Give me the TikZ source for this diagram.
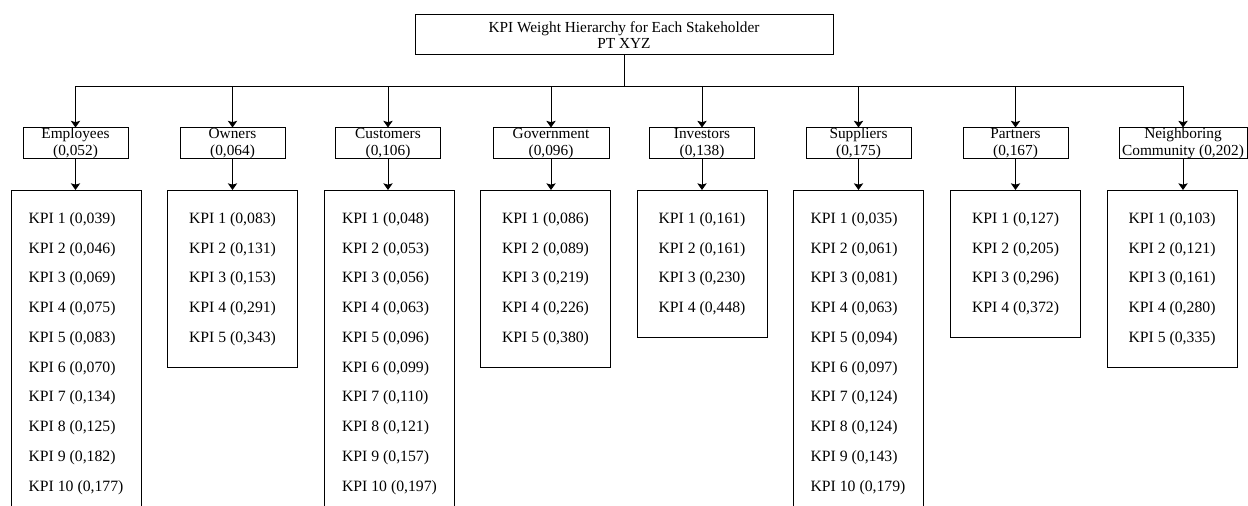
\documentclass[tikz,border=0pt]{standalone}
\usepackage{fontspec}
\setmainfont{Liberation Serif}
\usetikzlibrary{arrows.meta}

\begin{document}
\begin{tikzpicture}[x=0.75pt, y=-0.75pt,
		box/.style={draw, line width=0.75pt, inner xsep=0pt},
		titlebox/.style={box, minimum width=313.5pt, minimum height=30pt, inner ysep=0pt, align=center, font=\fontsize{11.5}{12}\selectfont},
		headbox/.style={box, minimum height=23.25pt, inner ysep=0pt, align=center, font=\fontsize{11.5}{12.75}\selectfont},
		kpibox/.style={box, anchor=north, minimum width=97.5pt, inner ysep=16.5pt, align=left, font=\fontsize{11.8}{22.3}\selectfont},
		arr/.style={line width=0.75pt, -{Stealth[length=5pt, width=7pt, inset=1pt]}}]
		%%%%% START %%%%%
		
		\useasboundingbox (0, 0) rectangle (1248, 506);
		\clip (0, 0) rectangle (1248, 506);
		
		\node[titlebox] (title) at (624, 35) {KPI Weight Hierarchy for Each Stakeholder\\PT XYZ};
		\coordinate (bus) at (624, 87);
		
		\node[headbox, minimum width=78.75pt] (emp) at (75.5, 143.5) {Employees\\(0,052)};
		\node[headbox, minimum width=78.75pt] (own) at (232.5, 143.5) {Owners\\(0,064)};
		\node[headbox, minimum width=78.75pt] (cus) at (388, 143.5) {Customers\\(0,106)};
		\node[headbox, minimum width=87pt] (gov) at (551, 143.5) {Government\\(0,096)};
		\node[headbox, minimum width=78.75pt] (inv) at (702, 143.5) {Investors\\(0,138)};
		\node[headbox, minimum width=78.75pt] (sup) at (858.5, 143.5) {Suppliers\\(0,175)};
		\node[headbox, minimum width=78.75pt] (par) at (1015.5, 143.5) {Partners\\(0,167)};
		\node[headbox, minimum width=96pt] (nbr) at (1183, 143.5) {Neighboring\\Community (0,202)};
		
		\node[kpibox] (emp-kpi) at (76, 190) {KPI 1 (0,039)\\KPI 2 (0,046)\\KPI 3 (0,069)\\KPI 4 (0,075)\\KPI 5 (0,083)\\KPI 6 (0,070)\\KPI 7 (0,134)\\KPI 8 (0,125)\\KPI 9 (0,182)\\KPI 10 (0,177)};
		\node[kpibox] (own-kpi) at (232.5, 190) {KPI 1 (0,083)\\KPI 2 (0,131)\\KPI 3 (0,153)\\KPI 4 (0,291)\\KPI 5 (0,343)};
		\node[kpibox] (cus-kpi) at (389.5, 190) {KPI 1 (0,048)\\KPI 2 (0,053)\\KPI 3 (0,056)\\KPI 4 (0,063)\\KPI 5 (0,096)\\KPI 6 (0,099)\\KPI 7 (0,110)\\KPI 8 (0,121)\\KPI 9 (0,157)\\KPI 10 (0,197)};
		\node[kpibox] (gov-kpi) at (545.5, 190) {KPI 1 (0,086)\\KPI 2 (0,089)\\KPI 3 (0,219)\\KPI 4 (0,226)\\KPI 5 (0,380)};
		\node[kpibox] (inv-kpi) at (702, 190) {KPI 1 (0,161)\\KPI 2 (0,161)\\KPI 3 (0,230)\\KPI 4 (0,448)};
		\node[kpibox] (sup-kpi) at (858, 190) {KPI 1 (0,035)\\KPI 2 (0,061)\\KPI 3 (0,081)\\KPI 4 (0,063)\\KPI 5 (0,094)\\KPI 6 (0,097)\\KPI 7 (0,124)\\KPI 8 (0,124)\\KPI 9 (0,143)\\KPI 10 (0,179)};
		\node[kpibox] (par-kpi) at (1015.5, 190) {KPI 1 (0,127)\\KPI 2 (0,205)\\KPI 3 (0,296)\\KPI 4 (0,372)};
		\node[kpibox] (nbr-kpi) at (1172, 190) {KPI 1 (0,103)\\KPI 2 (0,121)\\KPI 3 (0,161)\\KPI 4 (0,280)\\KPI 5 (0,335)};
		
		\draw[line width=0.75pt] (title.south) -- (bus);
		\foreach \h in {emp, own, cus, gov, inv, sup, par, nbr} {
			\draw[arr] (bus) -| (\h.north);
			\draw[arr] (\h.south) -- (\h.south |- \h-kpi.north);
		}
		
		%%%%% END %%%%%
	\end{tikzpicture}
\end{document}
